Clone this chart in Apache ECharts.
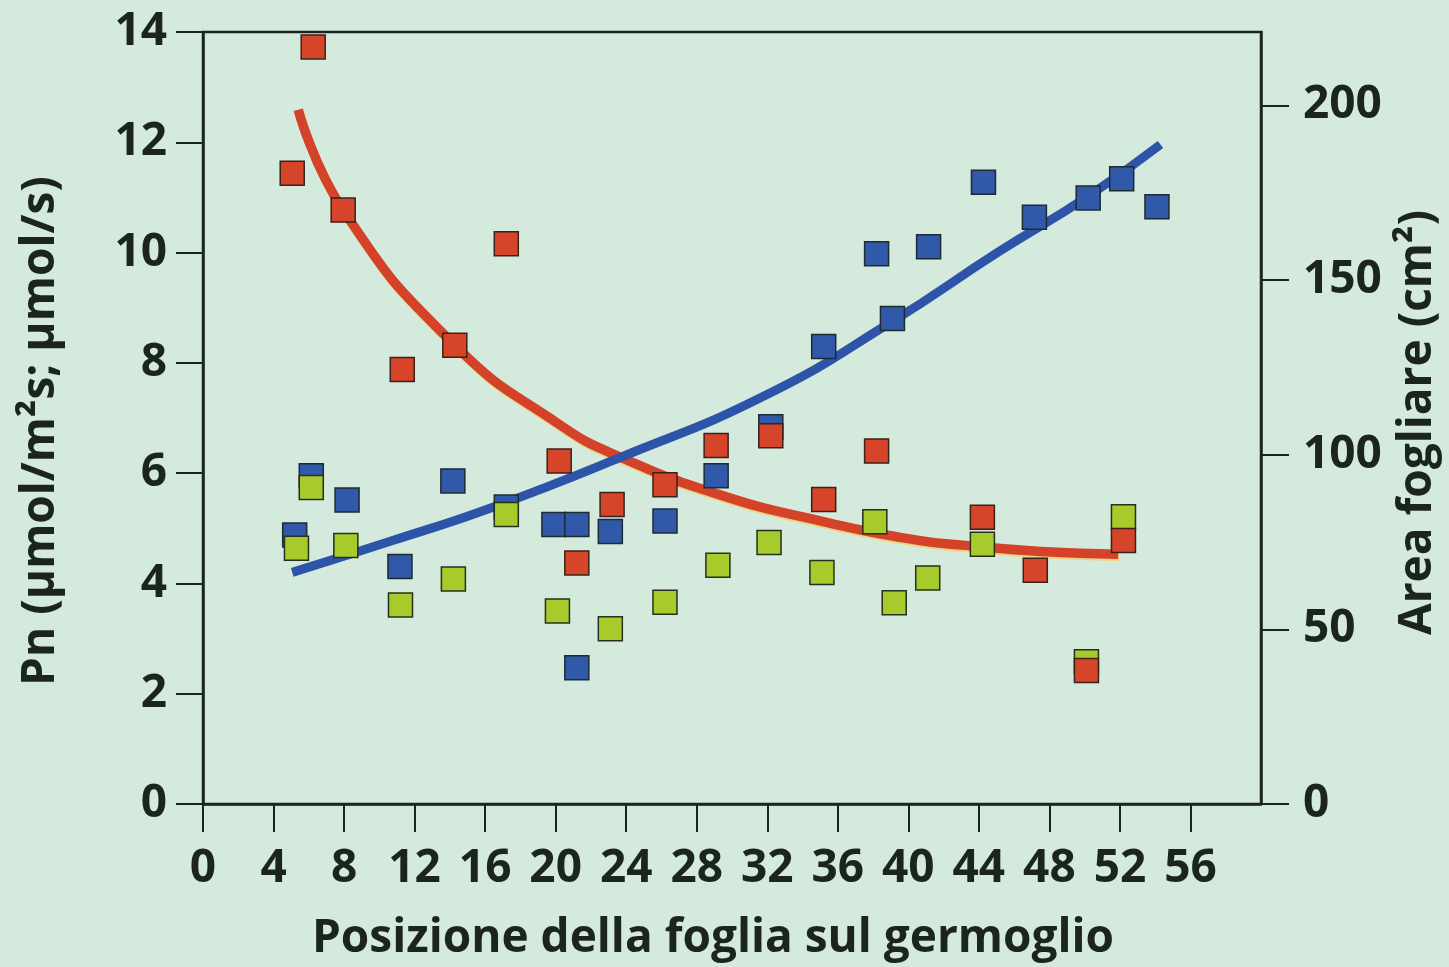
<!DOCTYPE html>
<html>
<head>
<meta charset="utf-8">
<script src="https://cdn.jsdelivr.net/npm/echarts@6/dist/echarts.min.js"></script>
<style>
html,body{margin:0;padding:0;background:#d4eadc;}
#chart{width:1449px;height:967px;}
</style>
</head>
<body>
<div id="chart"></div>
<script>
// Leaf position on the shoot (x) and values
const redX   = [5.06, 6.25, 7.95, 11.3, 14.28, 17.2, 20.2, 21.2, 23.2, 26.2, 29.1, 32.2, 35.2, 38.2, 44.2, 47.2, 50.1, 52.2];
const redY   = [11.44, 13.73, 10.77, 7.88, 8.32, 10.16, 6.22, 4.37, 5.43, 5.79, 6.5, 6.68, 5.52, 6.4, 5.2, 4.24, 2.42, 4.78];

const greenX = [5.3, 6.14, 8.1, 11.2, 14.2, 17.2, 20.1, 23.1, 26.2, 29.2, 32.1, 35.1, 38.1, 39.2, 41.1, 44.2, 50.1, 52.2];
const greenY = [4.64, 5.74, 4.69, 3.61, 4.08, 5.25, 3.5, 3.18, 3.66, 4.33, 4.74, 4.2, 5.12, 3.65, 4.1, 4.71, 2.58, 5.21];

// Leaf area (cm²), right axis
const blueX  = [5.2, 6.14, 8.17, 11.17, 14.17, 17.2, 19.9, 21.2, 21.2, 23.1, 26.2, 29.1, 32.2, 35.2, 38.2, 39.1, 41.15, 44.26, 47.15, 50.2, 52.1, 54.1];
const blueY  = [77, 94, 87, 68, 92.5, 85, 80, 80, 39, 78, 81, 94, 108, 131, 157.5, 139, 159.5, 178, 168, 173.5, 179, 171];

// Fitted curves, points
const redFitX  = [5.4, 7.95, 14.28, 20.22, 23.6, 29.27, 34.93, 40.58, 43.24, 47.5, 51.9];
const redFitY  = [12.59, 10.77, 8.32, 6.88, 6.3, 5.61, 5.14, 4.78, 4.69, 4.58, 4.53];
const blueFitX = [5.06, 10.8, 16.4, 23.6, 31.9, 39.05, 45.1, 50.2, 54.3];
const blueFitY = [66.3, 75.5, 84.9, 99.1, 117, 138, 158, 174, 188.8];

const rightTicks = [0, 50, 100, 150, 200];

const zip = (xs, ys) => xs.map((x, i) => [x, ys[i]]);

const FONT = "'Open Sans', 'DejaVu Sans', sans-serif";
const INK = '#1c2420';
const labelStyle = {color: INK, fontFamily: FONT, fontWeight: 'bold', fontSize: 46};

const chart = echarts.init(document.getElementById('chart'));
chart.setOption({
  backgroundColor: '#d4eadc',
  animation: false,
  grid: {left: 203, top: 32, right: 184, bottom: 159, show: true, borderColor: INK, borderWidth: 2.5, backgroundColor: 'transparent'},
  xAxis: {
    type: 'value', min: 0, max: 60, interval: 4,
    name: 'Posizione della foglia sul germoglio',
    nameLocation: 'middle', nameGap: 112,
    nameTextStyle: Object.assign({padding: [0, 38, 0, 0]}, labelStyle),
    axisLine: {lineStyle: {color: INK, width: 2.5}},
    axisTick: {show: true, inside: false, length: 28, lineStyle: {color: INK, width: 2}},
    axisLabel: Object.assign({margin: 42, showMaxLabel: false}, labelStyle),
    splitLine: {show: false}
  },
  yAxis: [{
    type: 'value', min: 0, max: 14, interval: 2, position: 'left',
    name: 'Pn (µmol/m²s; µmol/s)',
    nameLocation: 'middle', nameGap: 139, nameRotate: 90,
    nameTextStyle: Object.assign({padding: [0, 26, 0, 0]}, labelStyle),
    axisLine: {show: true, lineStyle: {color: INK, width: 2.5}},
    axisTick: {show: true, inside: false, length: 27, lineStyle: {color: INK, width: 2}},
    axisLabel: Object.assign({margin: 36}, labelStyle),
    splitLine: {show: false}
  }, {
    type: 'value', min: 0, max: 221, position: 'right',
    name: 'Area fogliare (cm²)',
    nameLocation: 'middle', nameGap: 134, nameRotate: 90,
    nameTextStyle: Object.assign({padding: [0, 9, 0, 0]}, labelStyle),
    axisLine: {show: true, lineStyle: {color: INK, width: 2.5}},
    axisTick: {show: true, inside: false, length: 28, customValues: rightTicks, lineStyle: {color: INK, width: 2}},
    axisLabel: Object.assign({margin: 42, customValues: rightTicks}, labelStyle),
    splitLine: {show: false}
  }],
  series: [{
    type: 'line', name: 'fitRed', yAxisIndex: 0, data: zip(redFitX, redFitY),
    smooth: 0.5, symbol: 'none', z: 2,
    lineStyle: {color: '#d4422a', width: 9.5, shadowColor: 'rgba(250,200,90,0.7)', shadowOffsetX: 1, shadowOffsetY: 2, shadowBlur: 0}
  }, {
    type: 'line', name: 'fitBlue', yAxisIndex: 1, data: zip(blueFitX, blueFitY),
    smooth: 0.5, symbol: 'none', z: 3,
    lineStyle: {color: '#2d54a8', width: 9}
  }, {
    type: 'scatter', name: 'blue', yAxisIndex: 1, data: zip(blueX, blueY),
    symbol: 'rect', symbolSize: 24, z: 4,
    itemStyle: {color: '#3059aa', borderColor: '#1f2a33', borderWidth: 1.5, opacity: 1}
  }, {
    type: 'scatter', name: 'green', yAxisIndex: 0, data: zip(greenX, greenY),
    symbol: 'rect', symbolSize: 24, z: 5,
    itemStyle: {color: '#a8cb2c', borderColor: '#26301c', borderWidth: 1.5, opacity: 1}
  }, {
    type: 'scatter', name: 'red', yAxisIndex: 0, data: zip(redX, redY),
    symbol: 'rect', symbolSize: 24, z: 6,
    itemStyle: {color: '#d6442a', borderColor: '#3a2218', borderWidth: 1.5, opacity: 1}
  }]
});
</script>
</body>
</html>
